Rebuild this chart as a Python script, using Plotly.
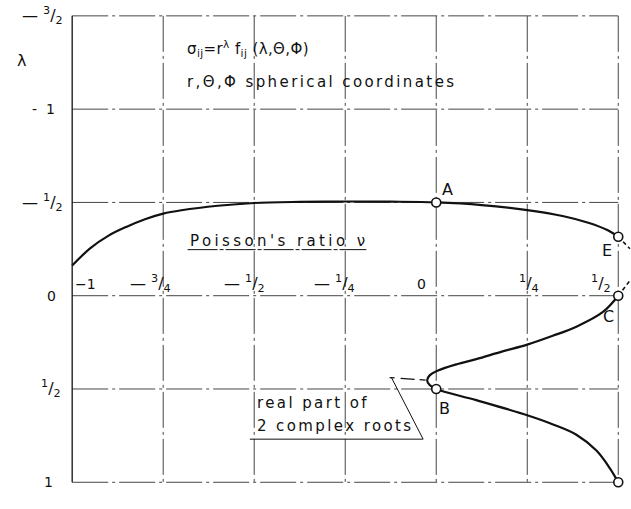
import plotly.graph_objects as go

# Poisson's ratio axis (nu) and exponent axis (lambda, drawn downward)
nu_ticks = [-1.0, -0.75, -0.5, -0.25, 0.0, 0.25, 0.5]
nu_labels = ["−1", "— <sup>3</sup>/<sub>4</sub>", "— <sup>1</sup>/<sub>2</sub>",
             "— <sup>1</sup>/<sub>4</sub>", "0", "<sup>1</sup>/<sub>4</sub>",
             "<sup>1</sup>/<sub>2</sub>"]
lam_ticks = [-1.5, -1.0, -0.5, 0.0, 0.5, 1.0]
lam_labels = ["— <sup>3</sup>/<sub>2</sub>", "-  1", "— <sup>1</sup>/<sub>2</sub>",
              "0", "<sup>1</sup>/<sub>2</sub>", "1"]

# branch through A and E
nu_upper = [-1.0, -0.95, -0.9, -0.85, -0.8, -0.75, -0.7, -0.6, -0.5, -0.375, -0.25,
            -0.125, 0.0, 0.125, 0.25, 0.35, 0.42, 0.47, 0.5]
lam_upper = [-0.162, -0.255, -0.322, -0.37, -0.41, -0.44, -0.458, -0.482, -0.497, -0.503,
             -0.505, -0.504, -0.5, -0.486, -0.459, -0.426, -0.39, -0.352, -0.316]

# branch C - B - D (with the turn of the complex-root real part)
nu_lower = [0.5, 0.458, 0.385, 0.32, 0.252, 0.18, 0.110, 0.059, 0.005, -0.018, -0.025,
            -0.018, 0.0, 0.110, 0.252, 0.321, 0.385, 0.44, 0.477, 0.5]
lam_lower = [0.0, 0.087, 0.166, 0.215, 0.261, 0.30, 0.340, 0.366, 0.401, 0.427, 0.453,
             0.479, 0.5, 0.56, 0.642, 0.69, 0.745, 0.83, 0.925, 1.0]

# continuation beyond nu = 1/2
ext_E_nu = [0.5, 0.532]
ext_E_lam = [-0.316, -0.252]
ext_C_nu = [0.5, 0.532]
ext_C_lam = [0.0, -0.081]

# marked points
pt_names = ["A", "B", "C", "D", "E"]
pt_nu = [0.0, 0.0, 0.5, 0.5, 0.5]
pt_lam = [-0.5, 0.5, 0.0, 1.0, -0.316]
pt_label_nu = [0.032, 0.023, 0.474, 0.468, 0.468]
pt_label_lam = [-0.568, 0.605, 0.113, 1.087, -0.243]

# leader for the complex-root note
leader_nu = [-0.512, -0.036, -0.123]
leader_lam = [0.769, 0.769, 0.439]
pointer_nu = [-0.128, -0.025]
pointer_lam = [0.439, 0.453]
axis_name_underline_nu = [-0.683, -0.192]
axis_name_underline_lam = [-0.247, -0.247]

FONT = "DejaVu Sans"
INK = "#111111"
GRID = "#454545"

fig = go.Figure()

# grid lines, horizontal ones stop at nu = 1/2
gx, gy = [], []
for v in nu_ticks[1:]:
    gx += [v, v, None]
    gy += [lam_ticks[0], lam_ticks[-1], None]
for l in lam_ticks:
    gx += [nu_ticks[0], nu_ticks[-1], None]
    gy += [l, l, None]
fig.add_trace(go.Scatter(x=gx, y=gy, mode="lines", hoverinfo="skip",
                         line=dict(color=GRID, width=1, dash="36px,4px,3px,4px")))
# left axis line
fig.add_trace(go.Scatter(x=[nu_ticks[0], nu_ticks[0]], y=[lam_ticks[0], lam_ticks[-1]],
                         mode="lines", hoverinfo="skip", line=dict(color=INK, width=1.3)))

# note leader and axis-name underline
fig.add_trace(go.Scatter(x=leader_nu, y=leader_lam, mode="lines", hoverinfo="skip",
                         line=dict(color=INK, width=1)))
fig.add_trace(go.Scatter(x=pointer_nu, y=pointer_lam, mode="lines", hoverinfo="skip",
                         line=dict(color=INK, width=1.3, dash="5px,6px,14px")))
fig.add_trace(go.Scatter(x=axis_name_underline_nu, y=axis_name_underline_lam, mode="lines",
                         hoverinfo="skip", line=dict(color=INK, width=1, dash="30px,2px,4px,2px")))

# curves
fig.add_trace(go.Scatter(x=nu_upper, y=lam_upper, mode="lines",
                         line=dict(color=INK, width=2.2, shape="spline", smoothing=1.0)))
fig.add_trace(go.Scatter(x=nu_lower, y=lam_lower, mode="lines",
                         line=dict(color=INK, width=2.2, shape="spline", smoothing=1.0)))
fig.add_trace(go.Scatter(x=ext_E_nu, y=ext_E_lam, mode="lines",
                         line=dict(color=INK, width=1.6, dash="4px,3px")))
fig.add_trace(go.Scatter(x=ext_C_nu, y=ext_C_lam, mode="lines",
                         line=dict(color=INK, width=1.6, dash="4px,3px")))

# open circles at A..E
fig.add_trace(go.Scatter(x=pt_nu, y=pt_lam, mode="markers", cliponaxis=False,
                         marker=dict(size=9, color="white", line=dict(color=INK, width=1.6))))

annotations = []
# point letters
for name, x, y in zip(pt_names, pt_label_nu, pt_label_lam):
    annotations.append(dict(x=x, y=y, xref="x", yref="y", text=name, showarrow=False,
                            font=dict(family=FONT, size=16, color=INK)))

# nu tick labels sit just above the lambda = 0 line
nu_anchor = ["left", "right", "right", "right", "right", "center", "right"]
nu_shift = [1, 10, 13, 12, -8, 2, -5]
nu_size = [14, 16, 16, 16, 14, 16, 16]
for v, t, a, s, fs in zip(nu_ticks, nu_labels, nu_anchor, nu_shift, nu_size):
    annotations.append(dict(x=v, y=0, xref="x", yref="y", text=t, showarrow=False,
                            xanchor=a, yanchor="middle", xshift=s, yshift=12,
                            font=dict(family=FONT, size=fs, color=INK)))

# lambda tick labels left of the axis
lam_shift = [-7, -15, -7, -14, -9, -17]
lam_size = [16, 14, 16, 14, 16, 14]
for l, t, s, fs in zip(lam_ticks, lam_labels, lam_shift, lam_size):
    annotations.append(dict(x=nu_ticks[0], y=l, xref="x", yref="y", text=t, showarrow=False,
                            xanchor="right", yanchor="middle", xshift=s,
                            font=dict(family=FONT, size=fs, color=INK)))

SP = '<span style="letter-spacing:2.4px">'
annotations += [
    dict(x=-0.098, y=-1.259, xref="paper", yref="y", text="λ", showarrow=False,
         font=dict(family=FONT, size=16, color=INK)),
    dict(x=-0.691, y=-1.324, xref="x", yref="y", xanchor="left",
         text='<span style="letter-spacing:0.4px">σ<sub>ij</sub>=r<sup>λ</sup> f<sub>ij</sub> (λ,Θ,Φ)</span>',
         showarrow=False, font=dict(family=FONT, size=15, color=INK)),
    dict(x=-0.691, y=-1.146, xref="x", yref="y", xanchor="left",
         text=SP + "r,Θ,Φ spherical coordinates</span>",
         showarrow=False, font=dict(family=FONT, size=15, color=INK)),
    dict(x=-0.683, y=-0.292, xref="x", yref="y", xanchor="left",
         text='<span style="letter-spacing:3.4px">Poisson\'s ratio ν</span>',
         showarrow=False, font=dict(family=FONT, size=15, color=INK)),
    dict(x=-0.499, y=0.573, xref="x", yref="y", xanchor="left",
         text=SP + "real part of</span>",
         showarrow=False, font=dict(family=FONT, size=15, color=INK)),
    dict(x=-0.499, y=0.696, xref="x", yref="y", xanchor="left",
         text=SP + "2 complex roots</span>",
         showarrow=False, font=dict(family=FONT, size=15, color=INK)),
]

fig.update_layout(
    width=631, height=509,
    margin=dict(l=70, r=0, t=14, b=23),
    paper_bgcolor="white", plot_bgcolor="white",
    showlegend=False,
    annotations=annotations,
    xaxis=dict(range=[-1.006, 0.535], showgrid=False, zeroline=False,
               showticklabels=False, showline=False, fixedrange=True),
    yaxis=dict(range=[1.02, -1.51], showgrid=False, zeroline=False,
               showticklabels=False, showline=False, fixedrange=True),
)

fig.write_html("out.html")
